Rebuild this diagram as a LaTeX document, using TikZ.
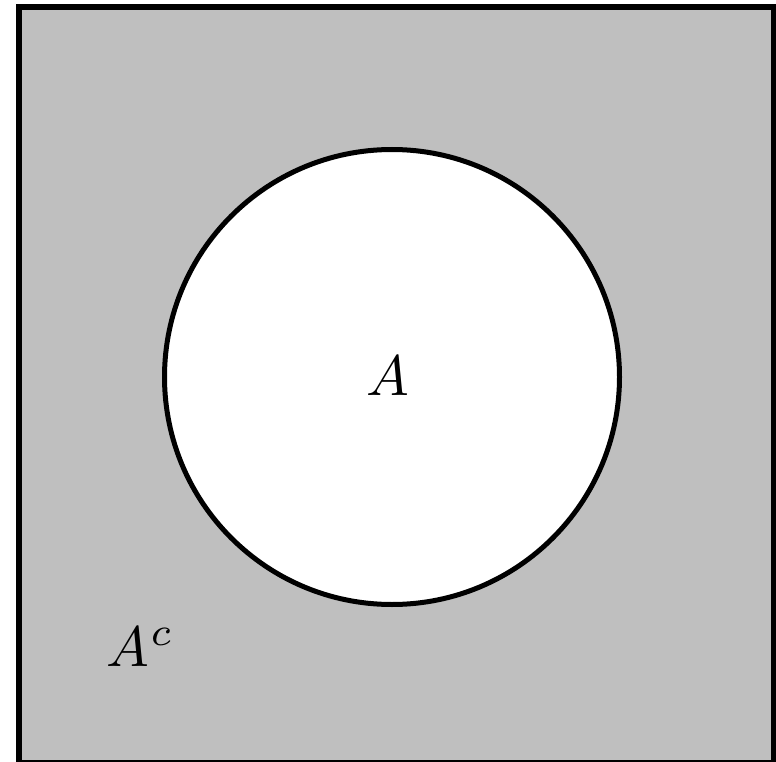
\documentclass[tikz,border=0pt]{standalone}
\usepackage{graphicx}
\newcommand{\biglbl}[1]{\scalebox{5.7}{#1}}
\begin{document}
\begin{tikzpicture}[x=1pt,y=-1pt]
  \tikzstyle{universe}=[draw=black, fill=black!25, line width=6pt]
  \tikzstyle{setcirc}=[draw=black, fill=white, circle, line width=5pt, minimum size=455pt, inner sep=0pt]
  \tikzstyle{lbl}=[inner sep=0pt]

  \useasboundingbox (0,0) rectangle (776,762);
  \draw[universe] (19,7) rectangle (774,763);

  \node[setcirc] (setA) at (392,377) {};
  \node[lbl, anchor=base] (labA) at (388,395) {\biglbl{$A$}};
  \node[lbl, anchor=base west] (labAc) at (106,666) {\biglbl{$A^{\kern0.3pt c}$}};
\end{tikzpicture}
\end{document}
